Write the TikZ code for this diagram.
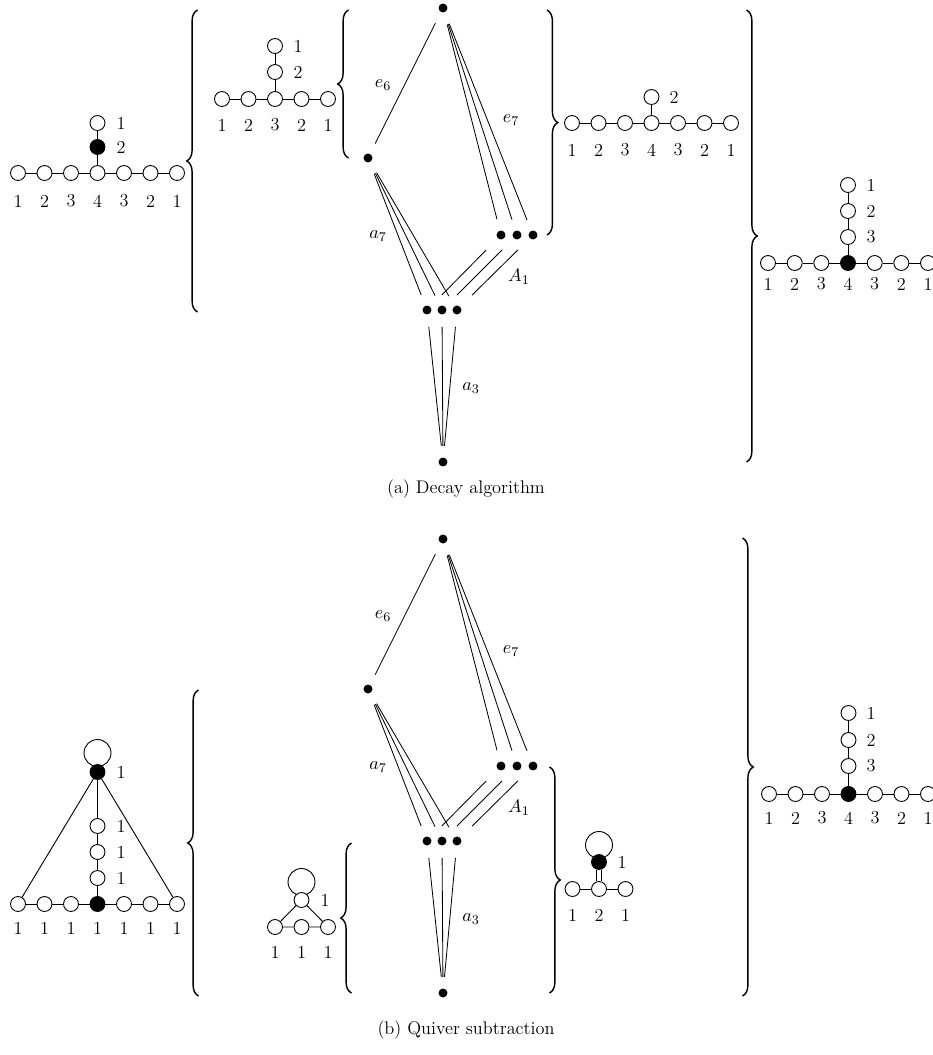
\documentclass[tikz,border=0pt]{standalone}
\usetikzlibrary{decorations.pathreplacing}
\tikzset{
  qn/.style={circle,draw,fill=white,minimum size=9pt,inner sep=0pt,line width=0.55pt},
  qf/.style={qn,fill=black},
  hd/.style={circle,fill=black,minimum size=5.4pt,inner sep=0pt},
  hl/.style={shorten <=7.3pt,shorten >=6.8pt,line width=0.5pt},
  hla/.style={shorten <=9.8pt,shorten >=9.8pt,line width=0.5pt},
  ql/.style={line width=0.55pt},
  brc/.style={decorate,decoration={brace,amplitude=6.5pt},line width=0.85pt},
  txt/.style={inner sep=0pt},
}
\newcommand\hassediag[1]{%
  \node[hd] (#1t) at (443,8) {};
  \node[hd] (#1l) at (368,158) {};
  \node[hd] (#1r1) at (501,235) {};
  \node[hd] (#1r2) at (517,235) {};
  \node[hd] (#1r3) at (533,235) {};
  \node[hd] (#1m1) at (427,310) {};
  \node[hd] (#1m2) at (442,310) {};
  \node[hd] (#1m3) at (457,310) {};
  \node[hd] (#1b) at (443,462) {};
  \draw[hl] (#1t) -- (#1l);
  \foreach \i in {1,2,3}{
    \draw[hl] (#1t) -- (#1r\i);
    \draw[hl] (#1l) -- (#1m\i);
    \draw[hla] (#1r\i) -- (#1m\i);
    \draw[hl] (#1m\i) -- (#1b);
  }
  \node[txt] (#1e6) at (383,85) {$e_6$};
  \node[txt] (#1e7) at (511,120) {$e_7$};
  \node[txt] (#1a7) at (378,236) {$a_7$};
  \node[txt] (#1A1) at (519,277) {$A_1$};
  \node[txt] (#1a3) at (471,388) {$a_3$};
}
\begin{document}
\begin{tikzpicture}[x=0.6024pt,y=-0.6024pt,font=\fontsize{11}{13}\selectfont]
\useasboundingbox (0,0) rectangle (933,1055);

% ---------------- (a) ----------------
% Q1
\foreach \x/\lb/\fc [count=\k] in {18/1/white,44.5/2/white,71/3/white,97.5/4/white,124/3/white,150.5/2/white,177/1/white}{
  \node[qn,fill=\fc] (a\k) at (\x,173) {};
  \node[txt] (a\k t) at (\x,201) {\lb};
}
\foreach \k [count=\j from 2] in {1,...,6} \draw[ql] (a\k) -- (a\j);
\node[qf] (a8) at (97.5,147) {};
\node[qn] (a9) at (97.5,123) {};
\node[txt] (a8t) at (121,147) {2};
\node[txt] (a9t) at (121,123) {1};
\draw[ql] (a4) -- (a8) -- (a9);

% Q2
\foreach \x/\lb [count=\k] in {222/1,248.5/2,275/3,301.5/2,328/1}{
  \node[qn] (b\k) at (\x,99) {};
  \node[txt] (b\k t) at (\x,125) {\lb};
}
\foreach \k [count=\j from 2] in {1,...,4} \draw[ql] (b\k) -- (b\j);
\node[qn] (b6) at (275,72) {};
\node[qn] (b7) at (275,46) {};
\node[txt] (b6t) at (298,72) {2};
\node[txt] (b7t) at (298,46) {1};
\draw[ql] (b3) -- (b6) -- (b7);

% Q3
\foreach \x/\lb [count=\k] in {572/1,598.5/2,625/3,651.5/4,678/3,704.5/2,731/1}{
  \node[qn] (c\k) at (\x,123) {};
  \node[txt] (c\k t) at (\x,150) {\lb};
}
\foreach \k [count=\j from 2] in {1,...,6} \draw[ql] (c\k) -- (c\j);
\node[qn] (c8) at (651.5,97) {};
\node[txt] (c8t) at (674,97) {2};
\draw[ql] (c4) -- (c8);

% Q4
\foreach \x/\lb/\fc [count=\k] in {768/1/white,794.7/2/white,821.3/3/white,848/4/black,874.7/3/white,901.3/2/white,928/1/white}{
  \node[qn,fill=\fc] (d\k) at (\x,263) {};
  \node[txt] (d\k t) at (\x,284) {\lb};
}
\foreach \k [count=\j from 2] in {1,...,6} \draw[ql] (d\k) -- (d\j);
\node[qn] (d8) at (848,237) {};
\node[qn] (d9) at (848,211) {};
\node[qn] (d10) at (848,185) {};
\node[txt] (d8t) at (871,237) {3};
\node[txt] (d9t) at (871,211) {2};
\node[txt] (d10t) at (871,185) {1};
\draw[ql] (d4) -- (d8) -- (d9) -- (d10);

% Hasse (a)
\hassediag{p}

% braces (a)
\draw[brc] (197.5,312) -- (197.5,10);
\draw[brc] (348.5,158) -- (348.5,10);
\draw[brc] (547,10) -- (547,235);
\draw[brc] (746.5,10) -- (746.5,462);

\node[txt] (capa) at (466,489) {(a) Decay algorithm};

% ---------------- (b) ----------------
% Q5
\draw[ql] (97.5,753) circle[radius=13.5];
\foreach \x/\fc [count=\k] in {18/white,44.5/white,71/white,97.5/black,124/white,150.5/white,177/white}{
  \node[qn,fill=\fc] (e\k) at (\x,904) {};
  \node[txt] (e\k t) at (\x,928) {1};
}
\foreach \k [count=\j from 2] in {1,...,6} \draw[ql] (e\k) -- (e\j);
\node[qn] (e8) at (97.5,878) {};
\node[qn] (e9) at (97.5,852) {};
\node[qn] (e10) at (97.5,826) {};
\node[qf] (e11) at (97.5,772) {};
\node[txt] (e8t) at (121,878) {1};
\node[txt] (e9t) at (121,852) {1};
\node[txt] (e10t) at (121,826) {1};
\node[txt] (e11t) at (121,772) {1};
\draw[ql] (e4) -- (e8) -- (e9) -- (e10) -- (e11);
\draw[ql] (e11) -- (e1);
\draw[ql] (e11) -- (e7);

% Q6
\draw[ql] (301.5,882) circle[radius=13.5];
\foreach \x [count=\k] in {275,301.5,328}{
  \node[qn] (f\k) at (\x,927) {};
  \node[txt] (f\k t) at (\x,952) {1};
}
\node[qn] (f4) at (301.5,900) {};
\node[txt] (f4t) at (325,900) {1};
\draw[ql] (f1) -- (f2) -- (f3) -- (f4) -- (f1);

% Q7
\draw[ql] (599,845) circle[radius=13.5];
\foreach \x/\lb [count=\k] in {572.5/1,599/2,625.5/1}{
  \node[qn] (g\k) at (\x,889) {};
  \node[txt] (g\k t) at (\x,915) {\lb};
}
\node[qf] (g4) at (599,862) {};
\node[txt] (g4t) at (622,862) {1};
\draw[ql] (g1) -- (g2) -- (g3);
\draw[ql,double,double distance=2.2pt] (g4) -- (g2);

% Q8
\foreach \x/\lb/\fc [count=\k] in {769/1/white,795.5/2/white,822/3/white,848.5/4/black,875/3/white,901.5/2/white,928/1/white}{
  \node[qn,fill=\fc] (h\k) at (\x,794) {};
  \node[txt] (h\k t) at (\x,818) {\lb};
}
\foreach \k [count=\j from 2] in {1,...,6} \draw[ql] (h\k) -- (h\j);
\node[qn] (h8) at (848.5,766) {};
\node[qn] (h9) at (848.5,740) {};
\node[qn] (h10) at (848.5,713) {};
\node[txt] (h8t) at (871,766) {3};
\node[txt] (h9t) at (871,740) {2};
\node[txt] (h10t) at (871,713) {1};
\draw[ql] (h4) -- (h8) -- (h9) -- (h10);

% Hasse (b)
\begin{scope}[shift={(0,531)}]
\hassediag{q}
\end{scope}

% braces (b)
\draw[brc] (198.5,996) -- (198.5,690);
\draw[brc] (351.5,993) -- (351.5,843);
\draw[brc] (549.5,767) -- (549.5,993);
\draw[brc] (742.5,538) -- (742.5,996);

\node[txt] (capb) at (466,1030) {(b) Quiver subtraction};
\end{tikzpicture}
\end{document}
